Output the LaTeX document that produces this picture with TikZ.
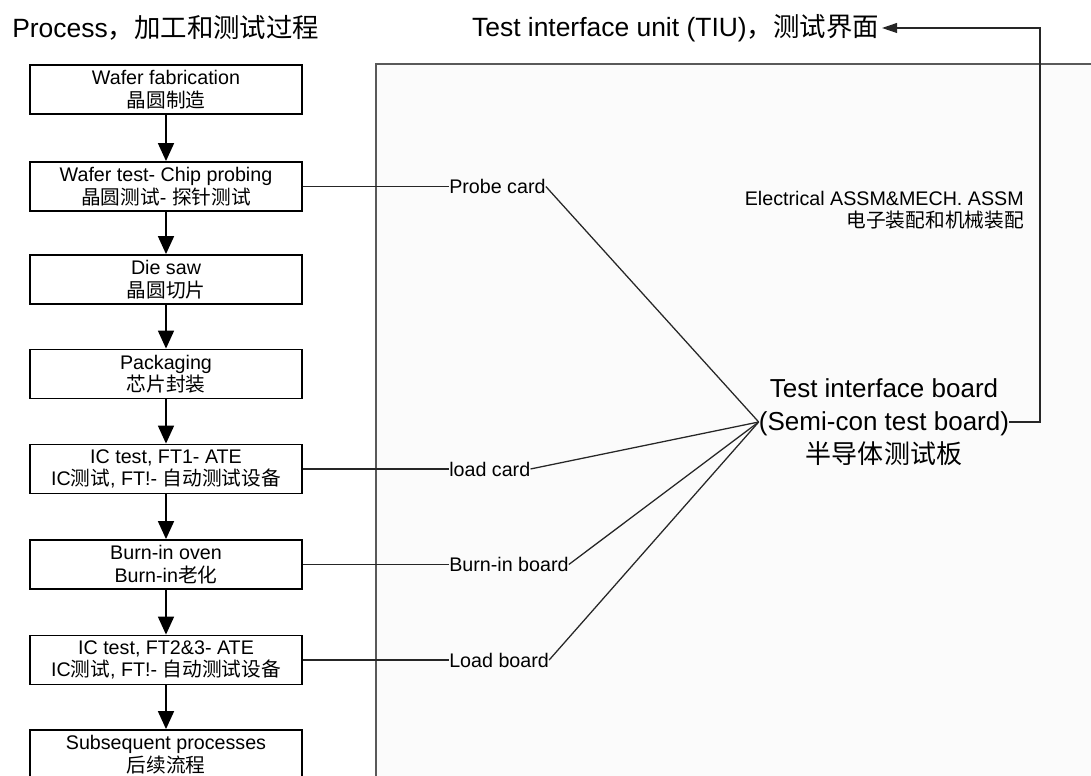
\documentclass[tikz,border=0pt]{standalone}
\usepackage{fontspec}
\setmainfont{Liberation Sans}
\newfontfamily\cjk{Noto Sans CJK SC}
\usetikzlibrary{arrows.meta,positioning}

\begin{document}
\begin{tikzpicture}
	[every node/.style={font=\fontsize{14}{16}\selectfont},
	 proc/.style={draw,line width=1.3pt,minimum width=6.8cm,minimum height=1.225cm,align=center,inner sep=0pt},
	 lbl/.style={inner sep=0pt,anchor=west},
	 big/.style={font=\fontsize{18.8}{21}\selectfont},
	 flow/.style={line width=1.2pt,-{Triangle[width=0.4cm,length=0.45cm]}},
	 link/.style={line width=0.9pt,black!85}]

	%\draw[help lines] (0,0) grid (27,19);
	\useasboundingbox (0,0) rectangle (27.275,19.4);
	\draw[black!65,line width=1.1pt,fill=black!1.5] (9.4,-1) rectangle (28,17.8);

	\node[big,anchor=west,inner sep=0pt] (title) at (0.3,18.7) {Process{\cjk ，加工和测试过程}};
	\node[big,inner sep=2pt] (tiu) at (16.8875,18.7) {Test interface unit (TIU){\cjk ，测试界面}};

	\node[proc] (fab) at (4.15,17.1625) {Wafer fabrication\\{\cjk 晶圆制造}};
	\node[proc] (probing) at (4.15,14.7375) {Wafer test- Chip probing\\{\cjk 晶圆测试}- {\cjk 探针测试}};
	\node[proc] (saw) at (4.15,12.4125) {Die saw\\{\cjk 晶圆切片}};
	\node[proc] (pack) at (4.15,10.05) {Packaging\\{\cjk 芯片封装}};
	\node[proc] (ft1) at (4.15,7.675) {IC test, FT1- ATE\\IC{\cjk 测试}, FT!- {\cjk 自动测试设备}};
	\node[proc] (burn) at (4.15,5.2875) {Burn-in oven\\Burn-in{\cjk 老化}};
	\node[proc] (ft23) at (4.15,2.9) {IC test, FT2\&3- ATE\\IC{\cjk 测试}, FT!- {\cjk 自动测试设备}};
	\node[proc] (post) at (4.15,0.5375) {Subsequent processes\\{\cjk 后续流程}};

	\node[lbl] (probe) at (11.225,14.7375) {Probe card};
	\node[lbl] (loadc) at (11.225,7.675) {load card};
	\node[lbl] (bib) at (11.225,5.2875) {Burn-in board};
	\node[lbl] (loadb) at (11.225,2.9) {Load board};

	\node[align=center,inner sep=0pt,font=\fontsize{18.5}{23.5}\selectfont] (tib) at (22.1,8.85) {Test interface board\\(Semi-con test board)\\{\cjk 半导体测试板}};
	\node[anchor=east,align=right,inner sep=0pt] (assm) at (25.6,14.15) {Electrical ASSM\&MECH. ASSM\\{\cjk 电子装配和机械装配}};
	\coordinate (bend) at (26,18.7);

	\path[flow] (fab) edge (probing);
	\path[flow] (probing) edge (saw);
	\path[flow] (saw) edge (pack);
	\path[flow] (pack) edge (ft1);
	\path[flow] (ft1) edge (burn);
	\path[flow] (burn) edge (ft23);
	\path[flow] (ft23) edge (post);

	\path[link] (probing) edge (probe);
	\path[link] (ft1) edge (loadc);
	\path[link] (burn) edge (bib);
	\path[link] (ft23) edge (loadb);
	\path[link] (probe.east) edge (tib.west);
	\path[link] (loadc.east) edge (tib.west);
	\path[link] (bib.east) edge (tib.west);
	\path[link] (loadb.east) edge (tib.west);

	\draw[link,-{Triangle[width=0.25cm,length=0.38cm]}] (tib.east) -| (bend) -- (tiu.east);

\end{tikzpicture}
\end{document}
